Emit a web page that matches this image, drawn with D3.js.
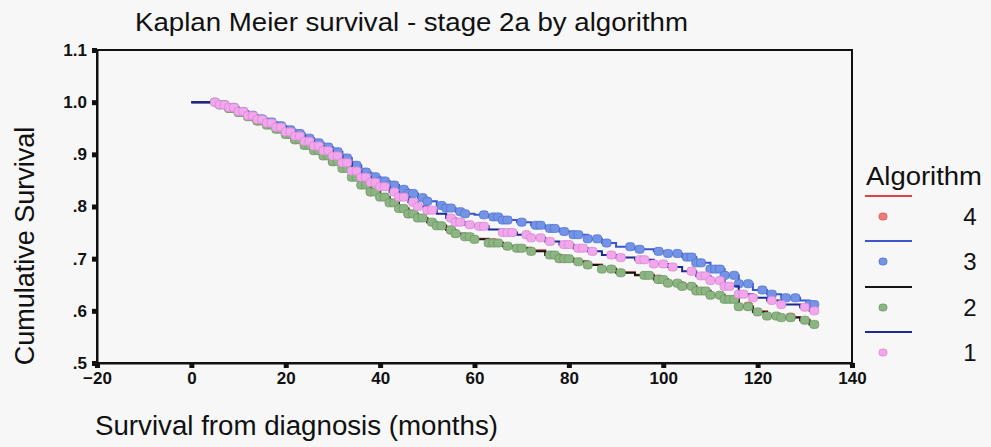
<!DOCTYPE html>
<html>
<head>
<meta charset="utf-8">
<script src="https://cdn.jsdelivr.net/npm/d3@7"></script>
<style>
  body { margin: 0; background: #f7f7f7; }
  text { font-family: "Liberation Sans", Arial, sans-serif; fill: #111; }
</style>
</head>
<body>
<div id="chart"></div>
<script>
// step points (months, cumulative survival)
var times = [0, 5, 6, 8, 10, 12, 14, 16, 18, 20, 22, 24, 26, 28, 30, 32, 34, 36, 38, 40, 42, 44, 46, 48, 50,
             52, 54, 56, 58, 60, 63, 66, 69, 72, 75, 78, 81, 84, 87, 90, 94, 98, 101, 104, 107, 110, 113,
             116, 119, 122, 125, 129, 131, 132];

var surv1 = [1, 1, .995, .99, .982, .974, .967, .96, .952, .943, .935, .925, .916, .907, .897, .884, .868, .856,
             .846, .838, .828, .818, .808, .8, .793, .786, .778, .77, .765, .762, .756, .75, .746, .74, .733,
             .727, .72, .714, .707, .702, .698, .69, .684, .676, .667, .658, .647, .632, .625, .62, .612, .607, .6, .6];
var surv2 = [1, 1, .995, .988, .98, .972, .964, .956, .948, .938, .928, .917, .907, .897, .886, .873, .856, .841,
             .828, .818, .807, .796, .786, .778, .77, .763, .755, .748, .742, .737, .73, .724, .72, .714, .707,
             .7, .694, .688, .68, .673, .668, .66, .653, .647, .638, .63, .622, .608, .598, .59, .587, .582, .574, .574];
var surv3 = [1, 1, .995, .99, .982, .975, .968, .962, .955, .947, .94, .931, .922, .914, .905, .893, .879, .866,
             .857, .849, .841, .833, .825, .817, .81, .802, .797, .79, .786, .784, .78, .774, .77, .764, .758,
             .752, .746, .738, .73, .723, .718, .714, .71, .703, .692, .68, .668, .652, .64, .632, .625, .62, .612, .612];
var surv4 = [1, 1, .995, .988, .98, .972, .964, .956, .948, .938, .928, .917, .907, .897, .886, .873, .856, .841,
             .828, .818, .807, .796, .786, .778, .77, .763, .755, .748, .742, .738, .731, .725, .721, .716, .708,
             .701, .695, .689, .681, .674, .669, .661, .654, .648, .639, .631, .623, .609, .599, .591, .588, .583, .575, .575];

// censored cases (months)
var cens1 = [5, 6, 7, 8, 9, 10, 11, 12, 13, 14, 15, 16, 17, 18, 19, 20, 21, 22, 23, 24, 25, 26, 27, 28, 29, 30,
             31, 32, 33, 34, 35, 36, 37, 38, 39, 40, 41, 43, 44, 45, 47, 48, 50, 51, 55, 56, 57, 59, 61, 62, 66,
             67, 68, 71, 72, 74, 76, 79, 80, 82, 83, 85, 89, 91, 95, 96, 98, 100, 102, 106, 108, 109, 110, 112,
             113, 114, 116, 117, 119, 123, 125, 130, 132];
var cens2 = [5, 6, 7, 8, 9, 10, 11, 12, 13, 14, 15, 16, 17, 18, 19, 20, 21, 22, 23, 24, 25, 26, 27, 28, 29, 30,
             31, 32, 33, 34, 35, 36, 37, 38, 39, 40, 41, 42, 43, 44, 45, 46, 47, 48, 49, 51, 52, 53, 55, 56, 58,
             59, 60, 63, 64, 65, 67, 69, 70, 72, 76, 77, 78, 79, 80, 82, 84, 87, 89, 91, 96, 97, 99, 100, 101,
             103, 104, 106, 107, 108, 109, 110, 112, 113, 114, 115, 116, 118, 120, 122, 124, 125, 127, 130, 132];
var cens3 = [6, 7, 8, 9, 10, 11, 12, 13, 14, 15, 16, 17, 18, 19, 20, 21, 22, 23, 24, 25, 26, 27, 28, 29, 30, 31,
             32, 33, 34, 35, 36, 37, 38, 39, 40, 41, 42, 43, 45, 46, 47, 49, 50, 53, 54, 55, 57, 58, 62, 64, 65,
             66, 67, 70, 73, 74, 76, 77, 79, 81, 82, 84, 86, 88, 93, 95, 99, 101, 103, 105, 106, 107, 108, 110,
             111, 112, 113, 115, 116, 118, 121, 123, 126, 128, 131, 132];
var cens4 = [8, 14, 22, 30, 38, 46, 55, 64, 78, 99, 104, 118, 127];

var groups = ["4", "3", "2", "1"];
var lineColors = { "4": "#e0404a", "3": "#3a58cc", "2": "#151515", "1": "#1c2a94" };
var dotColors = { "4": "#f07a74", "3": "#7393e6", "2": "#8db584", "1": "#f2a6ec" };
var dotStroke = { "4": "#d85a58", "3": "#5676cf", "2": "#6f9a66", "1": "#d98ad6" };
var series = { "1": [surv1, cens1], "2": [surv2, cens2], "3": [surv3, cens3], "4": [surv4, cens4] };

var xTicks = [-20, 0, 20, 40, 60, 80, 100, 120, 140];
var yTicks = [.5, .6, .7, .8, .9, 1.0, 1.1];
var yLabels = [".5", ".6", ".7", ".8", ".9", "1.0", "1.1"];

var W = 991, H = 447;
var svg = d3.select("#chart").append("svg").attr("width", W).attr("height", H);
svg.append("rect").attr("width", W).attr("height", H).attr("fill", "#f7f7f7");

var x = d3.scaleLinear().domain([-20, 140]).range([97, 852]);
var y = d3.scaleLinear().domain([.5, 1.1]).range([363, 50]);

// frame
svg.append("rect").attr("x", 97).attr("y", 50).attr("width", 755).attr("height", 313)
   .attr("fill", "none").attr("stroke", "#111").attr("stroke-width", 2);

var gy = svg.append("g").attr("transform", "translate(97,0)")
  .call(d3.axisLeft(y).tickValues(yTicks).tickSize(5).tickPadding(5)
    .tickFormat(function(d, i) { return yLabels[i]; }));
var gx = svg.append("g").attr("transform", "translate(0,363)")
  .call(d3.axisBottom(x).tickValues(xTicks).tickSize(5).tickPadding(4));
[gx, gy].forEach(function(g) {
  g.select(".domain").attr("stroke", "#111").attr("stroke-width", 2);
  g.selectAll(".tick line").attr("stroke", "#111").attr("stroke-width", 5);
  g.selectAll(".tick text").attr("font-size", 17).attr("font-weight", "bold")
   .attr("font-family", "Liberation Sans, Arial, sans-serif").attr("fill", "#111");
});

var line = d3.line().curve(d3.curveStepAfter)
  .x(function(d) { return x(d[0]); }).y(function(d) { return y(d[1]); });
var bis = d3.bisector(function(d) { return d; }).right;

groups.forEach(function(k) {
  var s = series[k][0], c = series[k][1];
  var pts = times.map(function(t, i) { return [t, s[i]]; });
  svg.append("path").attr("d", line(pts)).attr("fill", "none")
     .attr("stroke", lineColors[k]).attr("stroke-width", 2);
  svg.append("g").selectAll("rect").data(c).enter().append("rect")
     .attr("x", function(t) { return x(t) - 4.5; })
     .attr("y", function(t) { return y(s[bis(times, t) - 1]) - 4; })
     .attr("width", 9).attr("height", 8).attr("rx", 3)
     .attr("fill", dotColors[k]).attr("stroke", dotStroke[k]).attr("stroke-width", 0.8);
});

// titles
svg.append("text").attr("x", 135).attr("y", 31).attr("font-size", 25)
   .attr("textLength", 553).attr("lengthAdjust", "spacingAndGlyphs")
   .text("Kaplan Meier survival - stage 2a by algorithm");
svg.append("text").attr("x", 95).attr("y", 435).attr("font-size", 27)
   .attr("textLength", 403).attr("lengthAdjust", "spacingAndGlyphs")
   .text("Survival from diagnosis (months)");
svg.append("text").attr("transform", "translate(34,246) rotate(-90)")
   .attr("text-anchor", "middle").attr("font-size", 27)
   .text("Cumulative Survival");

// legend
var lg = svg.append("g");
lg.append("text").attr("x", 866).attr("y", 185).attr("font-size", 25)
  .attr("textLength", 116).attr("lengthAdjust", "spacingAndGlyphs").text("Algorithm");
var legY = [196, 241, 287, 332];
groups.forEach(function(k, i) {
  lg.append("line").attr("x1", 865).attr("x2", 912).attr("y1", legY[i]).attr("y2", legY[i])
    .attr("stroke", lineColors[k]).attr("stroke-width", 2);
  lg.append("rect").attr("x", 879).attr("y", legY[i] + 17).attr("width", 8).attr("height", 7)
    .attr("rx", 3).attr("fill", dotColors[k]).attr("stroke", dotStroke[k]).attr("stroke-width", 0.8);
  lg.append("text").attr("x", 970).attr("y", legY[i] + 29).attr("text-anchor", "middle")
    .attr("font-size", 24).text(k);
});
</script>
</body>
</html>
